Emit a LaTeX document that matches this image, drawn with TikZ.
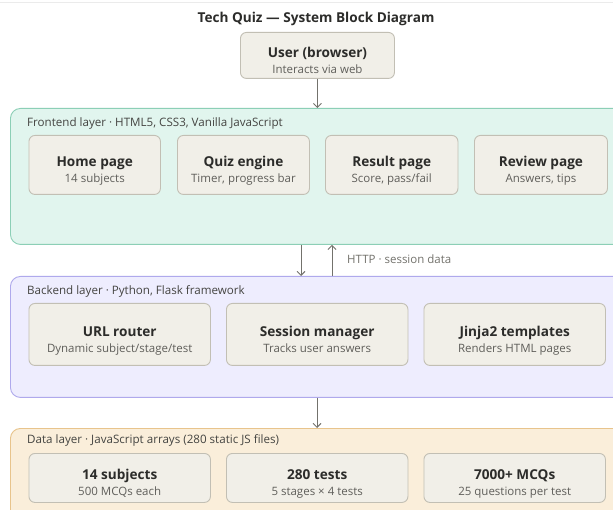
\documentclass[tikz,border=0pt]{standalone}
\usepackage{fontspec}
\setmainfont{Open Sans}
\usetikzlibrary{arrows.meta}

\definecolor{ink}{HTML}{2C2C2A}
\definecolor{subc}{HTML}{5F5E5A}
\definecolor{labc}{HTML}{444441}
\definecolor{arrc}{HTML}{73726C}
\definecolor{boxfill}{HTML}{F1EFE8}
\definecolor{boxline}{HTML}{C2BFB4}
\definecolor{fefill}{HTML}{E1F5EE}
\definecolor{feline}{HTML}{8CCFB6}
\definecolor{befill}{HTML}{EEEDFE}
\definecolor{beline}{HTML}{AFA9EC}
\definecolor{dafill}{HTML}{FAEEDA}
\definecolor{daline}{HTML}{E8C48C}

\tikzset{
  layer/.style={rounded corners=10pt, line width=0.9pt, inner sep=0pt,
    anchor=north west, minimum width=660pt},
  box/.style={draw=boxline, fill=boxfill, rounded corners=6pt, line width=0.9pt,
    inner sep=0pt, anchor=north west},
  hd/.style={font=\fontsize{13.6}{16}\selectfont\bfseries, text=ink, anchor=mid, inner sep=0pt},
  sb/.style={font=\fontsize{11.5}{13}\selectfont, text=subc, anchor=mid, inner sep=0pt},
  lay/.style={font=\fontsize{11.6}{13}\selectfont, text=labc, anchor=mid west, inner sep=0pt},
  arr/.style={draw=arrc, line width=0.9pt, -{Straight Barb[length=4pt,width=8pt]}},
}

% block with a bold heading and a grey sub-line
\newcommand\blk[7]{%
  \node[box, minimum width=#4pt, minimum height=#5pt] (#1) at (#2,#3) {};
  \node[hd] (#1-h) at ([yshift=0.8pt]#1.center) {#6};
  \node[sb] (#1-s) at ([yshift=-15.2pt]#1.center) {#7};
}

\begin{document}
\begin{tikzpicture}[x=1pt,y=-1pt]
\clip (0,0) rectangle (613,510);
\fill[white] (0,0) rectangle (613,510);
\draw[black!8, line width=0.8pt] (0,2) -- (613,2);

% title
\node[font=\fontsize{13.6}{17}\selectfont\bfseries, text=ink, anchor=mid] (title) at (316,19.5) {Tech Quiz — System Block Diagram};

% user
\blk{user}{240}{32}{154}{46}{User (browser)}{Interacts via web}

% layers
\node[layer, draw=feline, fill=fefill, minimum height=136pt] (fe) at (10,108) {};
\node[layer, draw=beline, fill=befill, minimum height=121pt] (be) at (10,276) {};
\node[layer, draw=daline, fill=dafill, minimum height=120pt] (da) at (10,428) {};

\node[lay] (feL) at (27,124) {Frontend layer · HTML5, CSS3, Vanilla JavaScript};
\node[lay] (beL) at (27,292) {Backend layer · Python, Flask framework};
\node[lay] (daL) at (27,441) {Data layer · JavaScript arrays (280 static JS files)};

% frontend blocks
\blk{home}{28.5}{135}{131.5}{59}{Home page}{14 subjects}
\blk{quiz}{177}{135}{132}{59}{Quiz engine}{Timer, progress bar}
\blk{res}{325}{135}{132.5}{59}{Result page}{Score, pass/fail}
\blk{rev}{474}{135}{133}{59}{Review page}{Answers, tips}

% backend blocks
\blk{url}{28.5}{303}{181.5}{62}{URL router}{Dynamic subject/stage/test}
\blk{sess}{226}{303}{181.5}{62}{Session manager}{Tracks user answers}
\blk{jinja}{423.5}{303}{181.5}{62}{Jinja2 templates}{Renders HTML pages}

% data blocks
\blk{subj}{28.5}{453}{181.5}{49}{14 subjects}{500 MCQs each}
\blk{tests}{226}{453}{181.5}{49}{280 tests}{5 stages × 4 tests}
\blk{mcq}{423.5}{453}{181.5}{49}{7000+ MCQs}{25 questions per test}

% connectors
\draw[arr] (user.south) -- (user.south |- fe.north);
\draw[arr] (301,0 |- fe.south) -- (301,0 |- be.north);
\draw[arr] (332,0 |- be.north) -- (332,0 |- fe.south);
\draw[arr] (317,0 |- be.south) -- (317,0 |- da.north);
\node[sb, anchor=mid west, text=arrc] (http) at (347,261) {HTTP · session data};
\end{tikzpicture}
\end{document}
